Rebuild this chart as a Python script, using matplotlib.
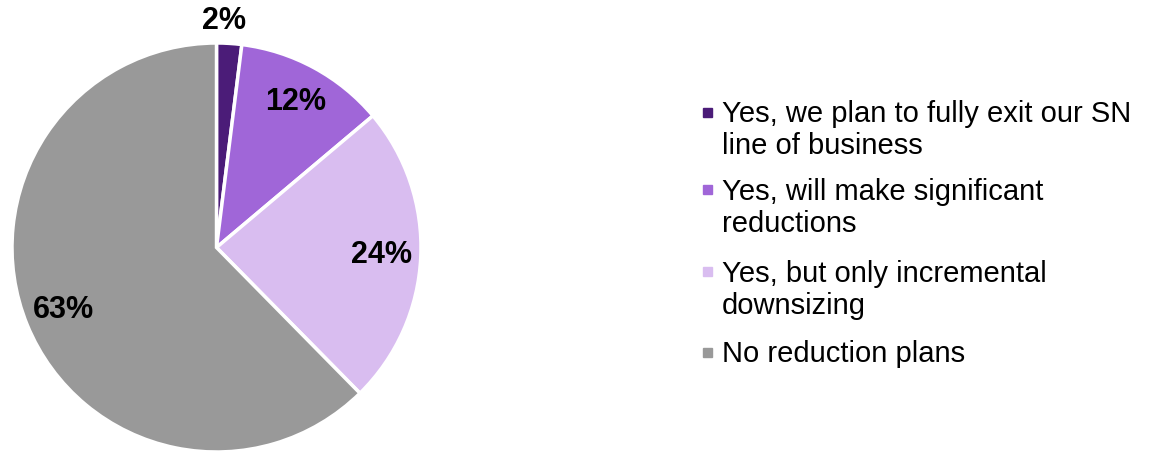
import matplotlib
matplotlib.use('Agg')
import matplotlib.pyplot as plt
from matplotlib.patches import Rectangle
import numpy as np

plt.rcParams['font.family'] = ['Liberation Sans', 'DejaVu Sans']

# survey answers (percent)
labels = [['Yes, we plan to fully exit our SN', 'line of business'],
          ['Yes, will make significant', 'reductions'],
          ['Yes, but only incremental', 'downsizing'],
          ['No reduction plans']]
values = [2, 12, 24, 63]
colors = ['#4b1c78', '#a066d8', '#d9bdf0', '#999999']

W, H = 1151, 453
fig = plt.figure(figsize=(W / 100, H / 100), dpi=100)

# pie axes: centre (216.5, 247.5) px from top-left, radius 204.5 px
cx, cy, r = 216.5, H - 247.5, 204.5
ax = fig.add_axes([(cx - r) / W, (cy - r) / H, 2 * r / W, 2 * r / H])
wedges, _ = ax.pie(values, colors=colors, startangle=90, counterclock=False,
                   radius=1, wedgeprops=dict(edgecolor='white', linewidth=2.5))
ax.set_xlim(-1, 1)
ax.set_ylim(-1, 1)
ax.set_aspect('equal')
ax.axis('off')

# percentage labels; the thin first slice gets its label above the pie
for i, w in enumerate(wedges):
    mid = np.deg2rad((w.theta1 + w.theta2) / 2)
    if i == 0:
        x, y = 0.5 * 1.11 * np.cos(mid), 1.11 * np.sin(mid)
    else:
        x, y = 0.81 * np.cos(mid), 0.81 * np.sin(mid)
    ax.text(x, y, '%d%%' % values[i], ha='center', va='center',
            fontsize=22, fontweight='bold', clip_on=False)

# legend drawn by hand, one text per line
fs = 21
first_lines = [112, 189, 271, 352]
line_gap = 32
for lines, col, y in zip(labels, colors, first_lines):
    fig.patches.append(Rectangle((703 / W, (H - y - 4.5) / H), 9 / W, 9 / H,
                                 transform=fig.transFigure, color=col))
    for k, s in enumerate(lines):
        base = y + k * line_gap + 10.5
        fig.text(722 / W, (H - base) / H, s, ha='left', va='baseline',
                 fontsize=fs)

fig.savefig('out.png', dpi=100)
